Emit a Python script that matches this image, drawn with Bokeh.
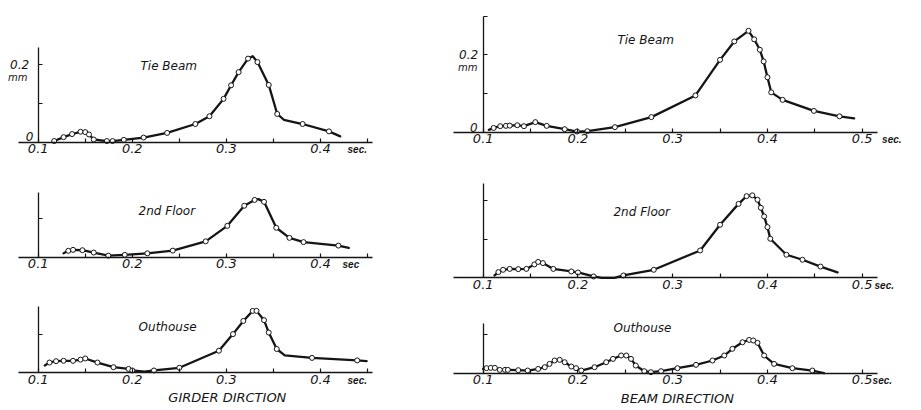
from bokeh.plotting import figure
from bokeh.layouts import row, column
from bokeh.models import Range1d, FixedTicker, Label
from bokeh.embed import file_html
from bokeh.resources import INLINE

# ---------------- data (period in sec, amplitude in mm) ----------------
# Girder direction - Tie Beam
gt_t = [0.117, 0.127, 0.136, 0.145, 0.150, 0.154, 0.159, 0.173, 0.179, 0.191, 0.212, 0.237, 0.267,
        0.282, 0.297, 0.305, 0.313, 0.323, 0.328, 0.333, 0.345, 0.354, 0.361, 0.381, 0.409, 0.421]
gt_a = [0.003, 0.013, 0.021, 0.027, 0.026, 0.020, 0.007, 0.003, 0.003, 0.006, 0.012, 0.024, 0.047,
        0.067, 0.112, 0.147, 0.181, 0.216, 0.222, 0.207, 0.148, 0.073, 0.058, 0.047, 0.028, 0.015]
gt_plain = [0.328, 0.361, 0.421]

# Girder direction - 2nd Floor
gf_t = [0.127, 0.132, 0.137, 0.147, 0.159, 0.1745, 0.192, 0.216, 0.243, 0.278, 0.301, 0.319, 0.330,
        0.334, 0.340, 0.353, 0.367, 0.382, 0.419, 0.430]
gf_a = [0.010, 0.0165, 0.019, 0.018, 0.012, 0.004, 0.006, 0.010, 0.017, 0.041, 0.081, 0.133, 0.148,
        0.150, 0.143, 0.076, 0.050, 0.039, 0.030, 0.024]
gf_plain = [0.127, 0.334, 0.430]

# Girder direction - Outhouse
go_t = [0.107, 0.112, 0.119, 0.127, 0.137, 0.145, 0.150, 0.163, 0.180, 0.196, 0.200, 0.213, 0.223,
        0.250, 0.292, 0.307, 0.318, 0.328, 0.332, 0.340, 0.345, 0.3535, 0.362, 0.391, 0.439, 0.449]
go_a = [0.019, 0.0265, 0.030, 0.031, 0.031, 0.034, 0.037, 0.0265, 0.0145, 0.010, 0.006, 0.003, 0.006,
        0.013, 0.057, 0.100, 0.134, 0.160, 0.160, 0.136, 0.104, 0.0615, 0.045, 0.0385, 0.032, 0.030]
go_plain = [0.107, 0.213, 0.362, 0.449]

# Beam direction - Tie Beam
bt_t = [0.106, 0.111, 0.118, 0.124, 0.128, 0.136, 0.143, 0.155, 0.167, 0.186, 0.199, 0.210, 0.239,
        0.2775, 0.324, 0.350, 0.365, 0.380, 0.386, 0.392, 0.396, 0.400, 0.404, 0.416, 0.449, 0.476, 0.4915]
bt_a = [0.006, 0.011, 0.0155, 0.0164, 0.017, 0.018, 0.0155, 0.026, 0.0164, 0.0078, 0.0017, 0.0026, 0.013,
        0.039, 0.095, 0.187, 0.2345, 0.262, 0.240, 0.213, 0.183, 0.142, 0.103, 0.0836, 0.055, 0.041, 0.036]
bt_plain = [0.106, 0.4915]

# Beam direction - 2nd Floor
bf_t = [0.112, 0.116, 0.121, 0.128, 0.137, 0.1456, 0.154, 0.158, 0.163, 0.174, 0.193, 0.200, 0.2165,
        0.225, 0.2386, 0.248, 0.280, 0.329, 0.350, 0.3695, 0.378, 0.384, 0.3895, 0.393, 0.3965, 0.400,
        0.403, 0.420, 0.437, 0.456, 0.474]
bf_a = [0.006, 0.0147, 0.0207, 0.023, 0.0224, 0.023, 0.0345, 0.041, 0.038, 0.023, 0.0164, 0.0138, 0.0034,
        0.0, 0.0, 0.006, 0.0207, 0.0707, 0.137, 0.191, 0.211, 0.213, 0.2017, 0.181, 0.1586, 0.131,
        0.1009, 0.0595, 0.0466, 0.029, 0.0138]
bf_plain = [0.112, 0.225, 0.2386, 0.474]

# Beam direction - Outhouse
bo_t = [0.100, 0.1035, 0.108, 0.1123, 0.1175, 0.123, 0.126, 0.137, 0.147, 0.158, 0.165, 0.170, 0.1754,
        0.1807, 0.186, 0.193, 0.198, 0.2035, 0.2175, 0.2298, 0.237, 0.2456, 0.251, 0.256, 0.261, 0.270,
        0.277, 0.2877, 0.305, 0.3246, 0.342, 0.3544, 0.363, 0.3737, 0.3807, 0.385, 0.3895, 0.3965,
        0.407, 0.4263, 0.4474, 0.4596]
bo_a = [0.011, 0.013, 0.0138, 0.0138, 0.0086, 0.0086, 0.0086, 0.0078, 0.0069, 0.011, 0.0155, 0.024, 0.0328,
        0.0345, 0.0284, 0.0172, 0.013, 0.0069, 0.0155, 0.0284, 0.037, 0.0457, 0.0457, 0.037, 0.0198, 0.0052,
        0.0026, 0.0052, 0.0129, 0.0216, 0.0328, 0.0457, 0.063, 0.080, 0.086, 0.0845, 0.0784, 0.0457,
        0.024, 0.0129, 0.0069, 0.0]
bo_plain = [0.100, 0.4596]

girder_ticks = [0.1, 0.2, 0.3, 0.4]
girder_tick_labels = ["0.1", "0.2", "0.3", "0.4"]
girder_minor = [0.15, 0.25, 0.35, 0.45]
beam_ticks = [0.1, 0.2, 0.3, 0.4, 0.5]
beam_tick_labels = ["0.1", "0.2", "0.3", "0.4", "0.5"]
beam_minor = [0.15, 0.25, 0.35, 0.45]

# ---------------- styling / geometry ----------------
FONT = "DejaVu Sans"
INK = "#151515"
YSCALE = 387.0      # px per mm
XSCALE_L = 941.0    # px per sec (left column)
XSCALE_R = 947.5    # px per sec (right column)


def panel(t, a, plain, width, height, x01, zero_px, xscale, xbounds, ytop,
          xticks, xlabels, xminor, yticks, ylabels, ystand,
          title, tx, ty, sec, secx, mm=None, zero=None, axtitle=None):
    x0 = 0.1 - x01 / xscale
    x1 = x0 + width / xscale
    y1 = zero_px / YSCALE
    y0 = -(height - zero_px) / YSCALE
    p = figure(width=width, height=height, output_backend="svg", toolbar_location=None,
               x_range=Range1d(x0, x1), y_range=Range1d(y0, y1), min_border=0)
    p.outline_line_color = None
    p.grid.visible = False
    p.background_fill_color = "white"
    p.border_fill_color = "white"

    xa = p.xaxis[0]
    xa.fixed_location = 0
    xa.bounds = xbounds
    xa.ticker = FixedTicker(ticks=xticks, minor_ticks=xminor)
    xa.major_label_overrides = {k: v for k, v in zip(xticks, xlabels)}
    xa.axis_line_color = INK
    xa.axis_line_width = 1.3
    xa.major_tick_line_color = INK
    xa.major_tick_line_width = 1.2
    xa.major_tick_in = 4
    xa.major_tick_out = 0
    xa.minor_tick_line_color = INK
    xa.minor_tick_line_width = 1.2
    xa.minor_tick_in = 4
    xa.minor_tick_out = 0
    xa.major_label_standoff = 2
    xa.major_label_text_font = FONT
    xa.major_label_text_font_style = "italic"
    xa.major_label_text_font_size = "13px"
    xa.major_label_text_color = INK

    ya = p.yaxis[0]
    ya.fixed_location = 0.1
    ya.bounds = (0, ytop)
    ya.ticker = FixedTicker(ticks=yticks, minor_ticks=[])
    ya.major_label_overrides = {k: v for k, v in zip(yticks, ylabels)}
    ya.axis_line_color = INK
    ya.axis_line_width = 1.3
    ya.major_tick_line_color = INK
    ya.major_tick_line_width = 1.2
    ya.major_tick_in = 4
    ya.major_tick_out = 0
    ya.minor_tick_line_color = None
    ya.major_label_standoff = ystand
    ya.major_label_text_font = FONT
    ya.major_label_text_font_style = "italic"
    ya.major_label_text_font_size = "12px"
    ya.major_label_text_color = INK

    p.line(t, a, line_color=INK, line_width=2.3, line_join="round", line_cap="round")
    mx = [x for x, y in zip(t, a) if x not in plain]
    my = [y for x, y in zip(t, a) if x not in plain]
    p.scatter(mx, my, marker="circle", size=5, fill_color="white", line_color=INK, line_width=1)

    p.add_layout(Label(x=tx, y=ty, text=title, text_font=FONT, text_font_style="italic",
                       text_font_size="12px", text_color=INK, text_baseline="middle", text_align="left"))
    p.add_layout(Label(x=secx, y=-7.5 / YSCALE, text=sec, text_font="Liberation Sans",
                       text_font_style="bold italic", text_font_size="10px", text_color=INK,
                       text_baseline="middle", text_align="left"))
    if mm is not None:
        p.add_layout(Label(x=mm[0], y=mm[1], text="mm", text_font=FONT, text_font_style="italic",
                           text_font_size="10px", text_color=INK, text_baseline="middle", text_align="right"))
    if zero is not None:
        p.add_layout(Label(x=zero[0], y=zero[1], text="0", text_font=FONT, text_font_style="italic",
                           text_font_size="12px", text_color=INK, text_baseline="middle", text_align="right"))
    if axtitle is not None:
        p.add_layout(Label(x=axtitle[1], y=-25 / YSCALE, text=axtitle[0], text_font=FONT,
                           text_font_style="italic", text_font_size="13px", text_color=INK,
                           text_baseline="middle", text_align="center"))
    return p


LB = (0.0791, 0.4553)   # x-axis line extent, left column
RB = (0.0687, 0.5159)   # x-axis line extent, right column

p1 = panel(gt_t, gt_a, gt_plain, 440, 165, 37.7, 141.7, XSCALE_L, LB, 0.245,
           girder_ticks, girder_tick_labels, girder_minor, [0, 0.1, 0.2], ["", "", "0.2"], 9,
           "Tie Beam", 0.2087, 0.198, "sec.", 0.4287, mm=(0.0886, 0.168), zero=(0.095, 0.0147))
p2 = panel(gf_t, gf_a, gf_plain, 440, 120, 37.7, 91.7, XSCALE_L, LB, 0.168,
           girder_ticks, girder_tick_labels, girder_minor, [0.1], [""], 8,
           "2nd Floor", 0.2067, 0.119, "sec", 0.4234)
p3 = panel(go_t, go_a, go_plain, 440, 125, 37.7, 87.3, XSCALE_L, LB, 0.171,
           girder_ticks, girder_tick_labels, girder_minor, [0.1], [""], 8,
           "Outhouse", 0.2067, 0.118, "sec.", 0.4287, axtitle=("GIRDER DIRCTION", 0.301))

p4 = panel(bt_t, bt_a, bt_plain, 481, 155, 42.7, 131.7, XSCALE_R, RB, 0.3,
           beam_ticks, beam_tick_labels, beam_minor, [0, 0.1, 0.2, 0.3], ["", "", "0.2", ""], 5,
           "Tie Beam", 0.2417, 0.2395, "sec.", 0.521, mm=(0.094, 0.168), zero=(0.094, 0.0134))
p5 = panel(bf_t, bf_a, bf_plain, 481, 145, 42.7, 122.3, XSCALE_R, RB, 0.243,
           beam_ticks, beam_tick_labels, beam_minor, [0.1, 0.2], ["", ""], 5,
           "2nd Floor", 0.2375, 0.169, "sec.", 0.513)
p6 = panel(bo_t, bo_a, bo_plain, 481, 110, 42.7, 72.7, XSCALE_R, RB, 0.1276,
           beam_ticks, beam_tick_labels, beam_minor, [0.1], [""], 5,
           "Outhouse", 0.2375, 0.118, "sec.", 0.511, axtitle=("BEAM DIRECTION", 0.305))

layout = row(column(p1, p2, p3), column(p4, p5, p6))

open("out.html", "w").write(file_html(layout, INLINE))
